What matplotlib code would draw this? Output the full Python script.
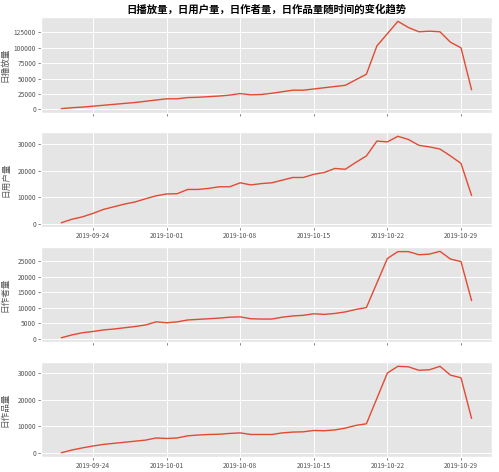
import matplotlib
matplotlib.use('Agg')
import matplotlib.pyplot as plt
import matplotlib.dates as mdates
import numpy as np
import pandas as pd

plt.style.use('ggplot')
plt.rcParams['font.family'] = ['Noto Sans CJK SC', 'DejaVu Sans']
plt.rcParams['axes.unicode_minus'] = False

# daily values, 2019-09-21 .. 2019-10-30
dates = pd.date_range('2019-09-21', '2019-10-30', freq='D')

play_count = [1000, 2500, 3500, 5000, 6500, 8000, 9500, 11000, 13000, 15000,
              17000, 17000, 19000, 19500, 20500, 21500, 23000, 25500, 23500, 24000,
              26000, 28500, 31000, 31000, 33000, 35000, 37000, 39000, 48000, 57000,
              103000, 123000, 143000, 133000, 126000, 127000, 126000, 109000, 100000, 32000]

user_count = [500, 1800, 2700, 4000, 5500, 6500, 7500, 8300, 9500, 10600,
              11300, 11400, 13000, 13000, 13400, 14000, 14000, 15500, 14700, 15200,
              15500, 16500, 17500, 17500, 18700, 19400, 20900, 20600, 23200, 25600,
              31200, 30900, 33000, 31800, 29600, 29000, 28200, 25600, 22800, 10800]

author_count = [400, 1300, 2000, 2400, 2900, 3200, 3600, 4000, 4500, 5500,
                5200, 5500, 6100, 6300, 6500, 6700, 7000, 7100, 6500, 6400,
                6400, 7000, 7400, 7600, 8100, 7900, 8200, 8700, 9500, 10100,
                18000, 25900, 28100, 28100, 27100, 27300, 28200, 25700, 24900, 12400]

item_count = [200, 1200, 2000, 2700, 3300, 3700, 4100, 4500, 4900, 5700,
              5500, 5700, 6500, 6800, 7000, 7100, 7400, 7600, 7000, 7000,
              7000, 7600, 7900, 8000, 8500, 8400, 8700, 9400, 10400, 11000,
              20500, 30000, 32500, 32300, 31000, 31200, 32500, 29200, 28200, 13100]

labels = ['日播放量', '日用户量', '日作者量', '日作品量']
series = [play_count, user_count, author_count, item_count]
show_xlabels = [False, True, False, True]
ystep = [25000, 10000, 5000, 10000]

fig = plt.figure(figsize=(4.99, 4.72), dpi=100)
bottoms = [0.7606, 0.5191, 0.2754, 0.0318]
heights = [0.2034, 0.2013, 0.2013, 0.2013]

axes = []
for i in range(4):
    ax = fig.add_axes([0.0822, bottoms[i], 0.9038, heights[i]])
    ax.plot(dates, series[i], color='#E24A33', linewidth=1.0)
    ax.xaxis.set_major_locator(mdates.WeekdayLocator(byweekday=mdates.TU))
    ax.xaxis.set_major_formatter(mdates.DateFormatter('%Y-%m-%d'))
    ax.set_yticks(np.arange(0, max(series[i]) + 1, ystep[i]))
    ax.tick_params(axis='both', labelsize=4.8, length=2, width=0.5, pad=1.5,
                   colors='#555555')
    if not show_xlabels[i]:
        ax.tick_params(axis='x', labelbottom=False)
    ax.set_ylabel(labels[i], fontsize=6.2, color='#555555')
    ax.yaxis.set_label_coords(-0.069, 0.5)
    ax.grid(True, color='white', linewidth=0.7)
    axes.append(ax)

axes[0].set_title('日播放量，日用户量，日作者量，日作品量随时间的变化趋势',
                  fontsize=7.5, fontweight='bold', color='black', pad=3)

plt.savefig('out.png', dpi=100)
plt.close()
